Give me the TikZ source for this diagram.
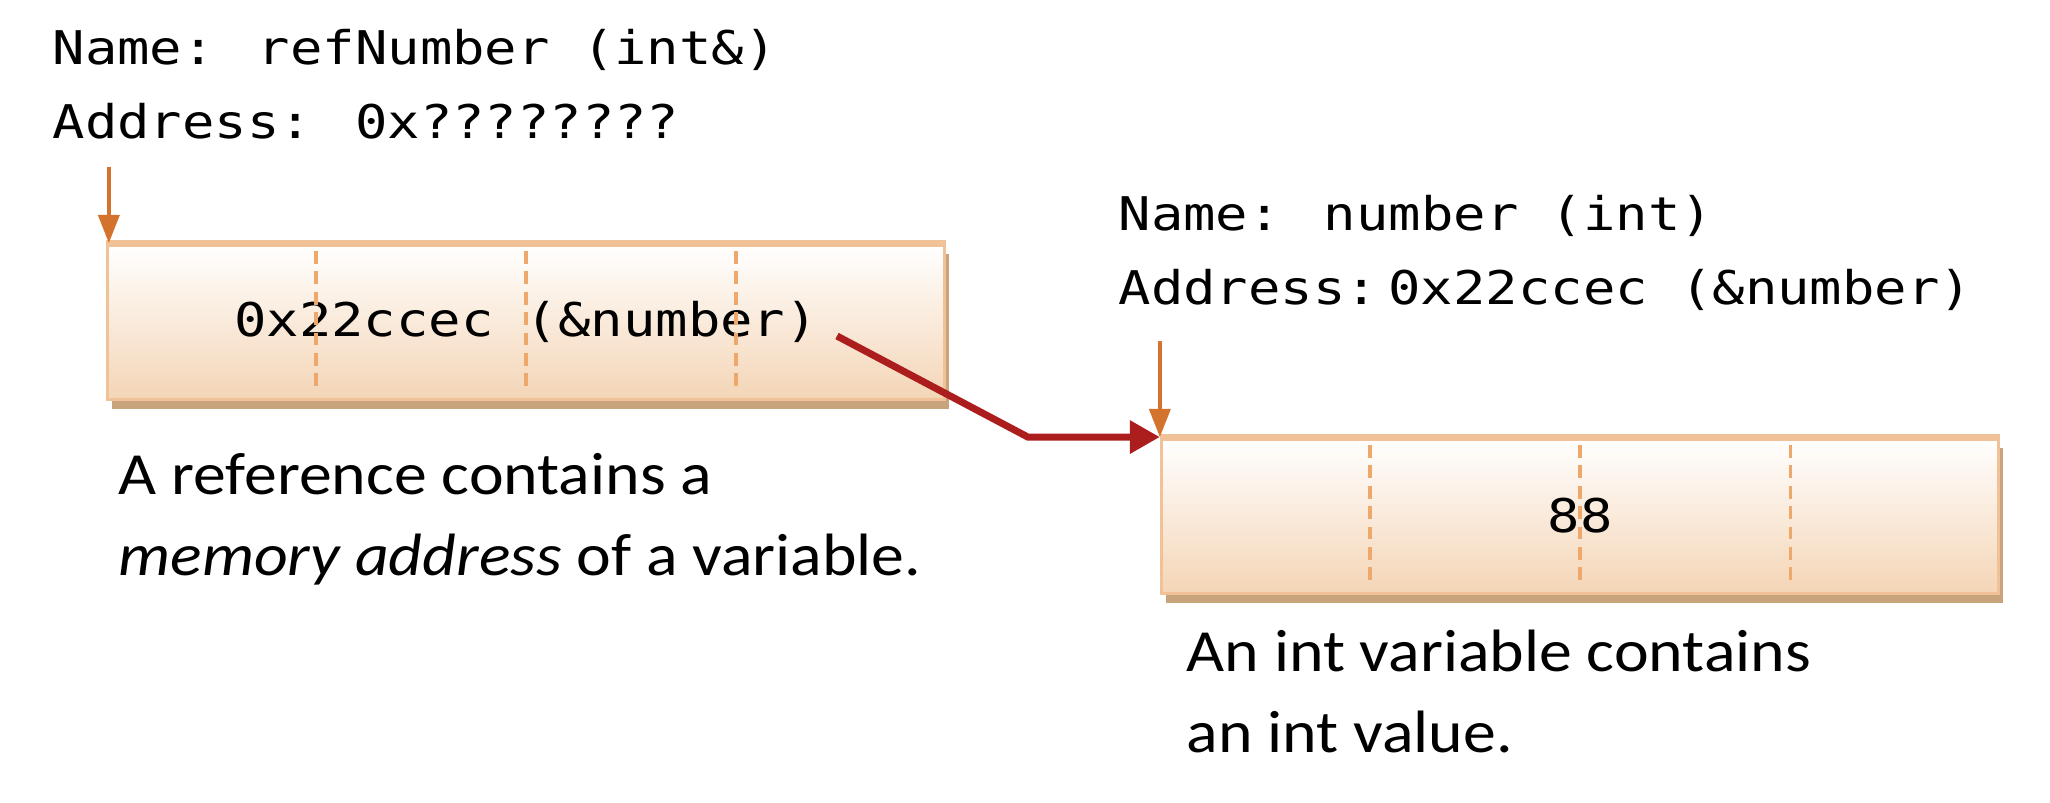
\documentclass[tikz,border=0pt]{standalone}
\usepackage{fontspec}
\setmainfont{Carlito}[FakeStretch=1.1]
\newfontfamily\codefont[FakeStretch=1.16]{DejaVu Sans Mono}
\usetikzlibrary{
    positioning,    % relative placement
    arrows.meta,    % Triangle tips
    shadows,        % drop shadow under the memory cells
    calc            % offsets from anchors
}
\definecolor{cellfill}{RGB}{244,213,182}
\definecolor{celledge}{RGB}{241,194,152}
\definecolor{celldash}{RGB}{238,168,108}
\definecolor{cellshadow}{RGB}{201,163,124}
\definecolor{markorange}{RGB}{212,115,45}
\definecolor{refred}{RGB}{172,30,30}

\begin{document}
\begin{tikzpicture}[
    x=0.01cm, y=-0.01cm, % one unit = one pixel of the 2050x802 frame, y downwards
    % Styles
    cell_box/.style={ % memory cell of a variable
        rectangle,
        draw=celledge,
        line width=0.8pt,
        top color=white,
        bottom color=cellfill,
        minimum width=8.37cm,
        minimum height=1.55cm,
        inner sep=0pt,
        font=\codefont\fontsize{13.2}{15}\selectfont,
        drop shadow={shadow xshift=1.3pt, shadow yshift=-2.6pt, fill=cellshadow, opacity=1}
    },
    cell_top/.style={celledge, line width=2pt},
    divider/.style={celldash, line width=0.9pt, dash pattern=on 3.6pt off 2.2pt},
    name_label/.style={ % name/address caption
        align=left,
        inner sep=0pt,
        font=\codefont\fontsize{13.2}{21}\selectfont
    },
    note_text/.style={ % plain explanation
        align=left,
        inner sep=0pt,
        font=\fontsize{17}{23}\selectfont
    },
    mark_arrow/.style={
        -{Triangle[length=8pt, width=6pt]}, markorange, line width=1pt
    },
    ref_arrow/.style={
        -{Triangle[length=8.5pt, width=9pt]}, refred, line width=2pt
    }
]
\useasboundingbox (0,0) rectangle (2050,802);

% --- Reference variable ---
\node[cell_box] (ref) at (526,322) {0x22ccec (\&number)};
\draw[cell_top] (ref.north west) -- (ref.north east);
\foreach \f in {0.25,0.5,0.75}
    \draw[divider] ($(ref.north west)!\f!(ref.north east)+(0,8)$) -- ($(ref.south west)!\f!(ref.south east)+(0,-8)$);
% base anchor sits on the last line
\node[name_label, anchor=base west] (refname) at (52,138) {Name: refNumber (int\&)\\Address: 0x????????};
\node[note_text, anchor=base west] (refnote) at (118,575) {A reference contains a\\\textit{memory address} of a variable.};

% --- Int variable ---
\node[cell_box] (num) at (1580,516) {88};
\draw[cell_top] (num.north west) -- (num.north east);
\foreach \f in {0.25,0.5,0.75}
    \draw[divider] ($(num.north west)!\f!(num.north east)+(0,8)$) -- ($(num.south west)!\f!(num.south east)+(0,-8)$);
\node[name_label, anchor=base west] (numname) at (1118,304) {Name: number (int)\\Address:\hspace{3pt}0x22ccec (\&number)};
\node[note_text, anchor=base west] (numnote) at (1186,752) {An int variable contains\\an int value.};

% --- Pointer from the reference to the int ---
\coordinate (ptr) at (837,336);
\coordinate (bend) at ($(num.north west)+(-132,0)$);
\draw[ref_arrow] (ptr) -- (bend) -- (num.north west);

% Address markers
\coordinate (refmark) at ($(ref.north west)+(3,-76)$);
\coordinate (nummark) at ($(num.north west)+(0,-96)$);
\draw[mark_arrow] (refmark) -- (refmark |- ref.north);
\draw[mark_arrow] (nummark) -- (num.north west);

\end{tikzpicture}
\end{document}
